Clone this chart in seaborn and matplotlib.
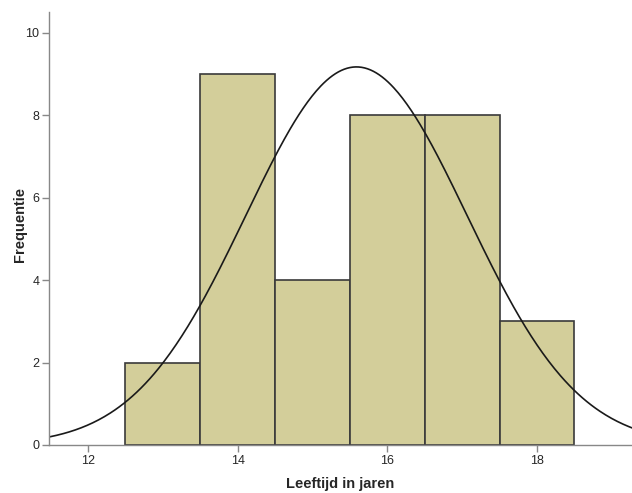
import numpy as np
import matplotlib
matplotlib.use("Agg")
import matplotlib.pyplot as plt
import seaborn as sns

# Leeftijd (jaren) en aantal leerlingen per leeftijd
ages = [13, 14, 15, 16, 17, 18]
counts = [2, 9, 4, 8, 8, 3]
bin_edges = [12.5, 13.5, 14.5, 15.5, 16.5, 17.5, 18.5]
x_ticks = [12, 14, 16, 18]
y_ticks = [0, 2, 4, 6, 8, 10]

sns.set_style("white")
plt.rcParams["font.family"] = ["Liberation Sans", "DejaVu Sans"]

fig = plt.figure(figsize=(6.32, 4.93), dpi=100)
ax = fig.add_axes([0.0775, 0.0974, 0.9225, 0.8783])

sns.histplot(x=ages, weights=counts, bins=bin_edges, color="#D3CE9A",
             edgecolor="#3a3a3a", linewidth=1.2, alpha=1, ax=ax)

# normale verdeling over de histogram
n = sum(counts)
a = np.array(ages, dtype=float)
w = np.array(counts, dtype=float)
mean = (a * w).sum() / n
sd = np.sqrt(((a - mean) ** 2 * w).sum() / (n - 1))
xs = np.linspace(11.48, 19.27, 400)
ys = n * 1.0 / (sd * np.sqrt(2 * np.pi)) * np.exp(-0.5 * ((xs - mean) / sd) ** 2)
sns.lineplot(x=xs, y=ys, color="#1a1a1a", linewidth=1.2, ax=ax)

ax.set_xlim(11.48, 19.27)
ax.set_ylim(0, 10.5)
ax.set_xticks(x_ticks)
ax.set_yticks(y_ticks)
ax.tick_params(axis="both", direction="out", length=5, width=1, color="#888888",
               labelsize=9, pad=2, bottom=True, left=True)
sns.despine(ax=ax)
for s in ["left", "bottom"]:
    ax.spines[s].set_color("#888888")
    ax.spines[s].set_linewidth(1)

ax.set_xlabel("Leeftijd in jaren", fontsize=10.5, fontweight="bold")
ax.xaxis.set_label_coords(0.5, -0.075)
ax.set_ylabel("Frequentie", fontsize=10.5, fontweight="bold")
ax.yaxis.set_label_coords(-0.037, 0.51)

fig.savefig("out.png", dpi=100)
